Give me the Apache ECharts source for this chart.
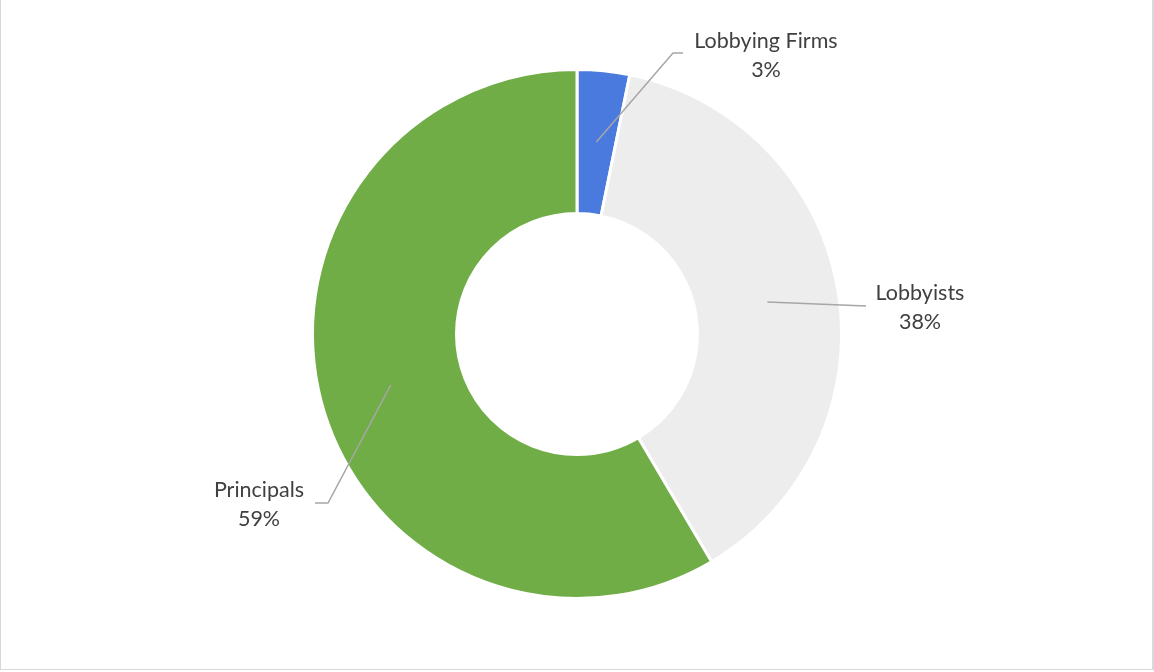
<!DOCTYPE html>
<html>
<head>
<meta charset="utf-8">
<script src="https://cdn.jsdelivr.net/npm/echarts@6/dist/echarts.min.js"></script>
<style>
  html, body { margin: 0; padding: 0; background: #ffffff; overflow: hidden; }
  #frame { position: absolute; left: 0; top: -1px; width: 1154px; height: 671px; box-sizing: border-box; border: 1px solid #d9d9d9; border-right-width: 2px; }
  #chart { position: absolute; left: 0; top: 0; width: 1154px; height: 672px; }
</style>
</head>
<body>
<div id="frame"></div>
<div id="chart"></div>
<script>
const categories = ['Lobbying Firms', 'Lobbyists', 'Principals'];
const values = [3.2, 38.3, 58.5];
const colors = ['#4a7ade', '#ededed', '#70ad47'];

const chart = echarts.init(document.getElementById('chart'), null, { renderer: 'canvas' });

const pieData = categories.map((c, i) => ({ name: c, value: values[i], itemStyle: { color: colors[i] } }));

// label centers and leader-line geometry (layout only)
const labelCenters = [[766, 56], [920, 308], [259, 505]];
function linePoints(i, start, cx, cy) {
  if (i === 0) return [start, [cx - 93, cy - 3], [cx - 83, cy - 3]];
  if (i === 1) return [start, [cx - 54, cy - 2]];
  return [start, [cx + 69, cy - 2], [cx + 56, cy - 2]];
}

chart.setOption({
  animation: false,
  series: [
    {
      type: 'pie',
      z: 1,
      center: [577, 334],
      radius: [120.5, 264.5],
      startAngle: 90,
      clockwise: true,
      silent: true,
      label: { show: false },
      labelLine: { show: false },
      itemStyle: { borderColor: '#ffffff', borderWidth: 3 },
      data: pieData
    },
    {
      type: 'pie',
      z: 5,
      center: [577, 334],
      radius: [0, 193],
      startAngle: 90,
      clockwise: true,
      silent: true,
      avoidLabelOverlap: false,
      percentPrecision: 0,
      itemStyle: { color: 'rgba(0,0,0,0)', borderWidth: 0 },
      label: {
        show: true,
        position: 'outside',
        formatter: '{b}\n{d}%',
        fontFamily: 'Lato',
        fontSize: 21.5,
        lineHeight: 29,
        color: '#404040',
        align: 'center'
      },
      labelLine: { show: true, length: 20, length2: 10, lineStyle: { color: '#a6a6a6', width: 1.5 } },
      labelLayout: function (params) {
        const i = params.dataIndex;
        const c = labelCenters[i];
        const start = params.labelLinePoints ? params.labelLinePoints[0] : [0, 0];
        return {
          x: c[0], y: c[1], align: 'center', verticalAlign: 'middle',
          labelLinePoints: linePoints(i, start, c[0], c[1])
        };
      },
      data: categories.map((c, i) => ({ name: c, value: values[i] }))
    }
  ]
});
</script>
</body>
</html>
